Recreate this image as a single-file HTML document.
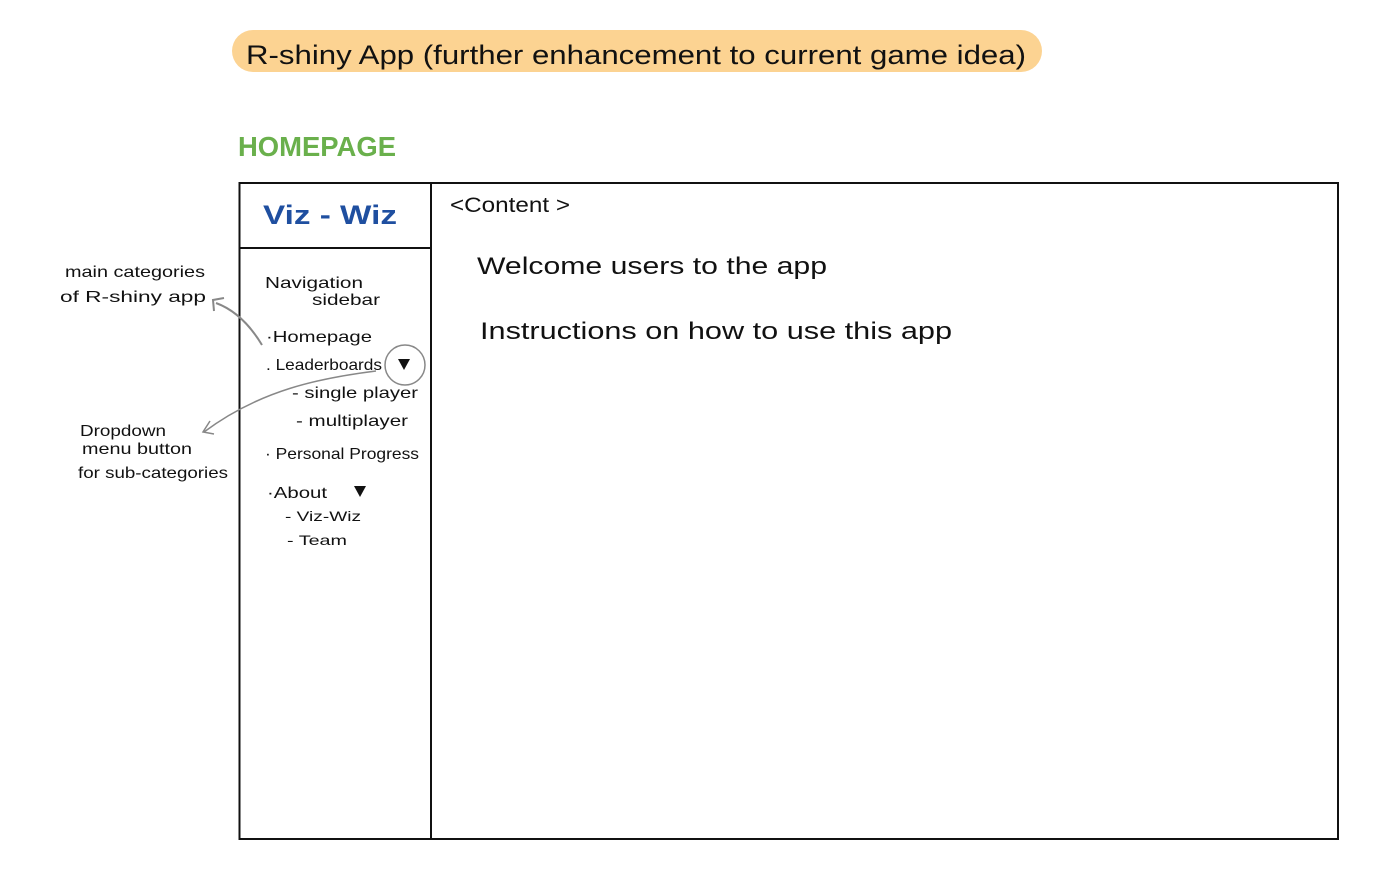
<!DOCTYPE html>
<html><head><meta charset="utf-8"><style>
html,body{margin:0;padding:0;background:#fff;}
svg{display:block}
text{font-family:"Liberation Sans",sans-serif;fill:#111;}
</style></head><body>
<svg width="1398" height="883" viewBox="0 0 1398 883" xmlns="http://www.w3.org/2000/svg">
<rect x="232" y="30" width="810" height="42" rx="21" fill="#fcd392"/>
<text x="246" y="64" font-size="27" textLength="780" lengthAdjust="spacingAndGlyphs">R-shiny App (further enhancement to current game idea)</text>
<text x="238" y="156" font-size="28" font-weight="bold" fill="#6ab04c" style="fill:#6ab04c" textLength="158" lengthAdjust="spacingAndGlyphs">HOMEPAGE</text>
<rect x="239.5" y="183" width="1098.5" height="656" fill="none" stroke="#111" stroke-width="2"/>
<line x1="431" y1="183" x2="431" y2="839" stroke="#111" stroke-width="2"/>
<line x1="239" y1="248" x2="431" y2="248" stroke="#111" stroke-width="2"/>
<text x="263" y="224" font-size="27" font-weight="bold" style="fill:#1f4fa0" textLength="134" lengthAdjust="spacingAndGlyphs">Viz - Wiz</text>
<text x="450" y="212" font-size="21" textLength="120" lengthAdjust="spacingAndGlyphs">&lt;Content &gt;</text>
<text x="477" y="274" font-size="24" textLength="350" lengthAdjust="spacingAndGlyphs">Welcome users to the app</text>
<text x="480" y="339" font-size="24" textLength="472" lengthAdjust="spacingAndGlyphs">Instructions on how to use this app</text>
<g font-size="16">
<text x="265" y="288" textLength="98" lengthAdjust="spacingAndGlyphs">Navigation</text>
<text x="312" y="305" textLength="68" lengthAdjust="spacingAndGlyphs">sidebar</text>
<text x="266" y="342" textLength="106" lengthAdjust="spacingAndGlyphs">·Homepage</text>
<text x="266" y="370" textLength="116" lengthAdjust="spacingAndGlyphs">. Leaderboards</text>
<text x="292" y="398" textLength="126" lengthAdjust="spacingAndGlyphs">- single player</text>
<text x="296" y="426" textLength="112" lengthAdjust="spacingAndGlyphs">- multiplayer</text>
<text x="265" y="459" textLength="154" lengthAdjust="spacingAndGlyphs">· Personal Progress</text>
<text x="267" y="498" textLength="60" lengthAdjust="spacingAndGlyphs">·About</text>
<text x="285" y="521" font-size="14" textLength="76" lengthAdjust="spacingAndGlyphs">- Viz-Wiz</text>
<text x="287" y="545" font-size="14" textLength="60" lengthAdjust="spacingAndGlyphs">- Team</text>
<text x="65" y="277" textLength="140" lengthAdjust="spacingAndGlyphs">main categories</text>
<text x="60" y="302" textLength="146" lengthAdjust="spacingAndGlyphs">of R-shiny app</text>
<text x="80" y="436" textLength="86" lengthAdjust="spacingAndGlyphs">Dropdown</text>
<text x="82" y="454" textLength="110" lengthAdjust="spacingAndGlyphs">menu button</text>
<text x="78" y="478" textLength="150" lengthAdjust="spacingAndGlyphs">for sub-categories</text>
</g>
<polygon points="398,359 410,359 404,370" fill="#111"/>
<polygon points="354,486 366,486 360,497" fill="#111"/>
<circle cx="405" cy="365" r="20" fill="none" stroke="#888" stroke-width="1.5"/>
<path d="M262,345 C250,325 235,310 216,303" fill="none" stroke="#888" stroke-width="2"/>
<path d="M214,311 L213,300 L224,298" fill="none" stroke="#888" stroke-width="2"/>
<path d="M376,371 C320,378 260,390 204,432" fill="none" stroke="#888" stroke-width="1.5"/>
<path d="M210,421 L203,432 L214,434" fill="none" stroke="#888" stroke-width="1.5"/>
</svg>
</body></html>
